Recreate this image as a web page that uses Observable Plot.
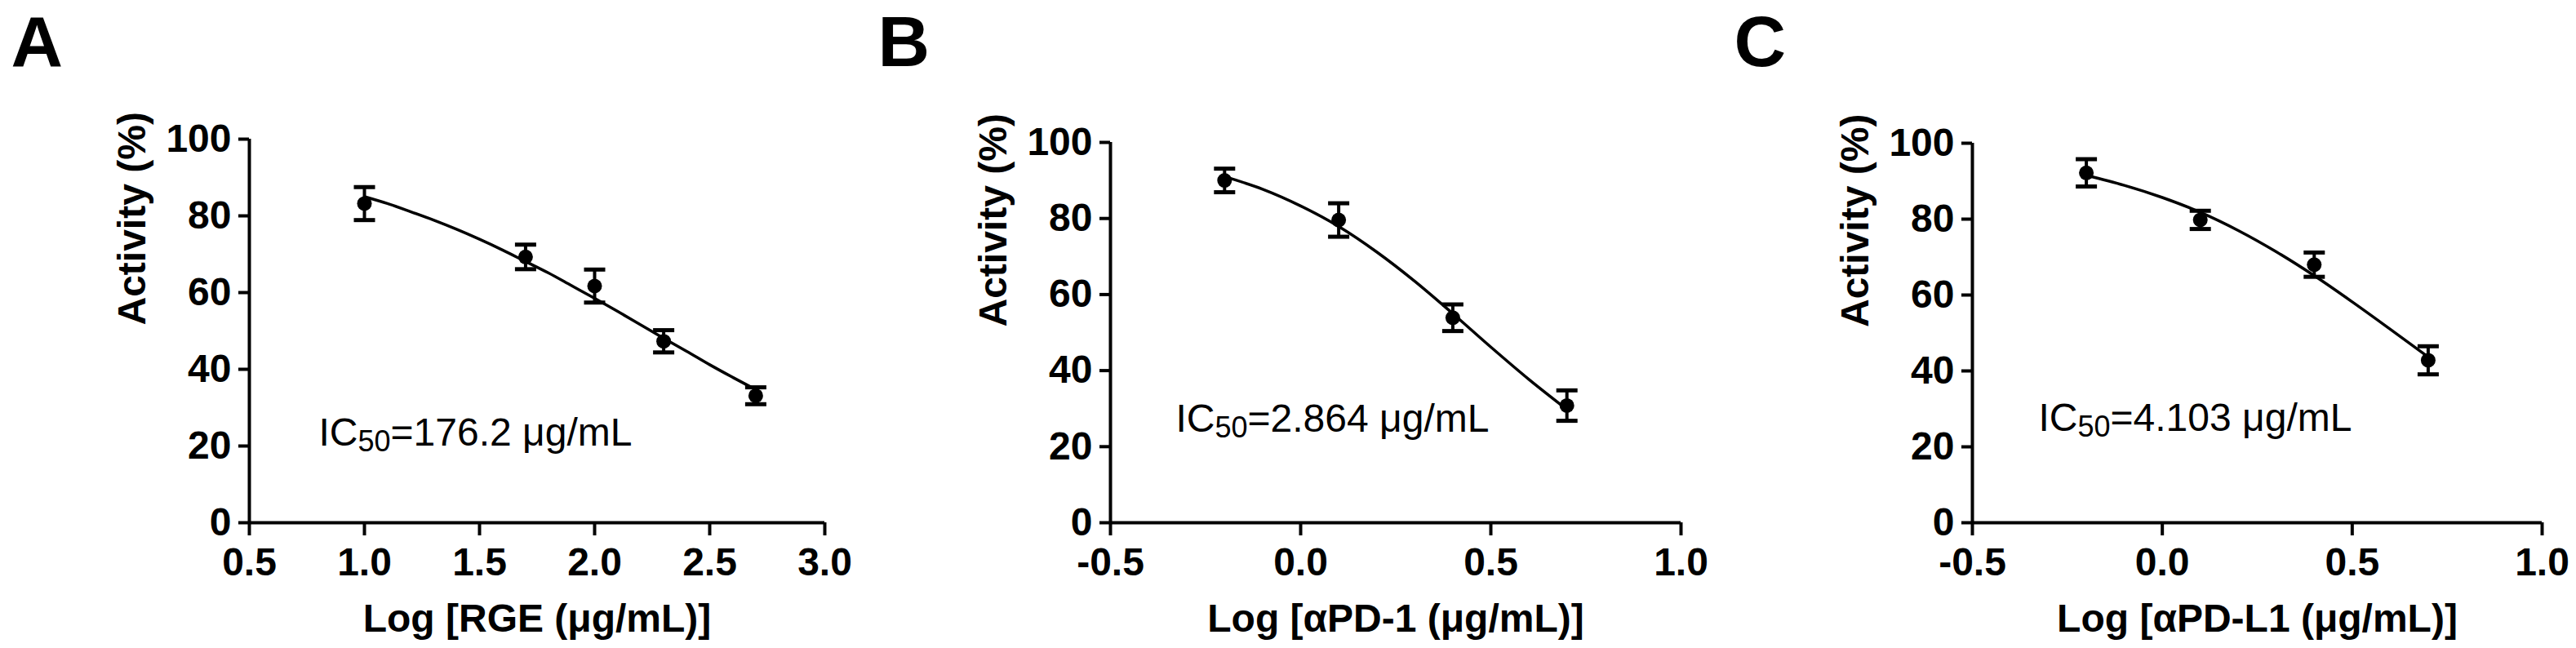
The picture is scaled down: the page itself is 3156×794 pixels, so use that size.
<!DOCTYPE html>
<html>
<head>
<meta charset="utf-8">
<script src="https://cdn.jsdelivr.net/npm/d3@7"></script>
<script src="https://cdn.jsdelivr.net/npm/@observablehq/plot@0.6"></script>
<style>
  html, body { margin: 0; padding: 0; background: #fff; }
  #row { display: flex; flex-direction: row; width: 3156px; height: 794px; }
  #row > svg { flex: none; }
</style>
</head>
<body>
<div id="row"></div>
<script>
// ---------- Data ----------
// Panel A: RGE
const concA = [1.0, 1.7, 2.0, 2.3, 2.7];
const actA  = [83.2, 69.3, 61.7, 47.3, 33.1];
const semA  = [4.3, 3.2, 4.3, 2.9, 2.2];
const fitXA = [1.0, 1.1, 1.2, 1.3, 1.4, 1.5, 1.6, 1.7, 1.8, 1.9, 2.0, 2.1, 2.2, 2.3, 2.4, 2.5, 2.6, 2.7];
const fitYA = [85.0, 83.2, 81.1, 78.9, 76.5, 73.9, 71.1, 68.1, 65.1, 61.8, 58.5, 55.1, 51.6, 48.1, 44.7, 41.2, 37.9, 34.7];

// Panel B: αPD-1
const concB = [-0.2, 0.1, 0.4, 0.7];
const actB  = [90.0, 79.6, 53.9, 30.8];
const semB  = [3.1, 4.4, 3.5, 4.0];
const fitXB = [-0.2, -0.1, 0.0, 0.1, 0.2, 0.3, 0.4, 0.5, 0.6, 0.7];
const fitYB = [91.0, 87.7, 83.3, 77.9, 71.2, 63.5, 55.0, 46.2, 37.7, 29.8];

// Panel C: αPD-L1
const concC = [-0.2, 0.1, 0.4, 0.7];
const actC  = [92.2, 79.8, 68.0, 42.8];
const semC  = [3.6, 2.4, 3.2, 3.7];
const fitXC = [-0.2, -0.1, 0.0, 0.1, 0.2, 0.3, 0.4, 0.5, 0.6, 0.7];
const fitYC = [91.5, 88.9, 85.7, 81.8, 77.0, 71.4, 65.1, 58.2, 51.0, 43.7];

// Tick values and labels
const yTicks  = [0, 20, 40, 60, 80, 100];
const xTicksA = [0.5, 1.0, 1.5, 2.0, 2.5, 3.0];
const xTicksBC = [-0.5, 0.0, 0.5, 1.0];
const panelLetters = ["A", "B", "C"];
const ic50Labels = ["IC50=176.2 μg/mL", "IC50=2.864 μg/mL", "IC50=4.103 μg/mL"];
const xTitles = ["Log [RGE (μg/mL)]", "Log [αPD-1 (μg/mL)]", "Log [αPD-L1 (μg/mL)]"];
const yTitle = "Activity (%)";

// ---------- Layout ----------
const FONT = "'Liberation Sans', Arial, Helvetica, sans-serif";
const panels = [
  {letter: panelLetters[0], conc: concA, act: actA, sem: semA, fitX: fitXA, fitY: fitYA,
   xDomain: [0.5, 3.0], xTicks: xTicksA, ic50: ic50Labels[0], xTitle: xTitles[0],
   ml: 305, mr: 42, mt: 170, letterDx: -292, icDx: 85, icDy: -95},
  {letter: panelLetters[1], conc: concB, act: actB, sem: semB, fitX: fitXB, fitY: fitYB,
   xDomain: [-0.5, 1.0], xTicks: xTicksBC, ic50: ic50Labels[1], xTitle: xTitles[1],
   ml: 308, mr: 45, mt: 174, letterDx: -285, icDx: 80, icDy: -112},
  {letter: panelLetters[2], conc: concC, act: actC, sem: semC, fitX: fitXC, fitY: fitYC,
   xDomain: [-0.5, 1.0], xTicks: xTicksBC, ic50: ic50Labels[2], xTitle: xTitles[2],
   ml: 312, mr: 42, mt: 175, letterDx: -292, icDx: 81, icDy: -113}
];

const capSymbol = {
  draw(ctx, size) {
    const r = Math.sqrt(size / Math.PI);
    ctx.moveTo(-r, 0);
    ctx.lineTo(r, 0);
  }
};

const row = document.getElementById("row");

panels.forEach(p => {
  const pts = p.conc.map((x, i) => ({x, y: p.act[i], e: p.sem[i]}));
  const fit = p.fitX.map((x, i) => ({x, y: p.fitY[i]}));
  const H = 794, bottom = 154;

  const svg = Plot.plot({
    width: 1052,
    height: H,
    marginLeft: p.ml,
    marginRight: p.mr,
    marginTop: p.mt,
    marginBottom: bottom,
    style: {fontFamily: FONT, color: "#000", background: "#fff", overflow: "visible"},
    x: {domain: p.xDomain},
    y: {domain: [0, 100]},
    marks: [
      // axes lines
      Plot.ruleX([p.xDomain[0]], {stroke: "#000", strokeWidth: 4}),
      Plot.ruleY([0], {stroke: "#000", strokeWidth: 4}),
      Plot.axisY({ticks: yTicks, tickSize: 13, tickPadding: 9, tickFormat: d => String(d),
        fontSize: 48, fontWeight: "bold", strokeWidth: 4, label: null}),
      Plot.axisX({ticks: p.xTicks, tickSize: 16, tickPadding: 14, tickFormat: d => d.toFixed(1),
        fontSize: 48, fontWeight: "bold", strokeWidth: 4, label: null}),
      // fitted curve
      Plot.line(fit, {x: "x", y: "y", curve: "monotone-x", stroke: "#000", strokeWidth: 3.5}),
      // error bars
      Plot.ruleX(pts, {x: "x", y1: d => d.y - d.e, y2: d => d.y + d.e, stroke: "#000", strokeWidth: 4}),
      Plot.dot(pts, {x: "x", y: d => d.y + d.e, symbol: capSymbol, r: 13, stroke: "#000", strokeWidth: 5, fill: "none"}),
      Plot.dot(pts, {x: "x", y: d => d.y - d.e, symbol: capSymbol, r: 13, stroke: "#000", strokeWidth: 5, fill: "none"}),
      // mean points
      Plot.dot(pts, {x: "x", y: "y", r: 9, fill: "#000", stroke: "none"}),
      // IC50 annotation
      Plot.text([p.ic50], {text: d => d, frameAnchor: "bottom-left", dx: p.icDx, dy: p.icDy,
        textAnchor: "start", lineAnchor: "bottom", fontSize: 48, fontWeight: "normal", fill: "#000"}),
      // axis titles
      Plot.text([yTitle], {text: d => d, frameAnchor: "left", rotate: -90, dx: -143, dy: -7,
        fontSize: 48, fontWeight: "bold", fill: "#000"}),
      Plot.text([p.xTitle], {text: d => d, frameAnchor: "bottom", dy: 133, lineAnchor: "bottom",
        fontSize: 48, fontWeight: "bold", fill: "#000"}),
      // panel letter
      Plot.text([p.letter], {text: d => d, frameAnchor: "top-left", dx: p.letterDx, dy: 18 - p.mt,
        textAnchor: "start", lineAnchor: "top", fontSize: 88, fontWeight: "bold", fill: "#000"})
    ]
  });

  // Subscript for IC50
  svg.querySelectorAll("text").forEach(t => {
    const s = t.textContent;
    if (s.startsWith("IC50")) {
      while (t.firstChild) t.removeChild(t.firstChild);
      const ns = "http://www.w3.org/2000/svg";
      const a = document.createElementNS(ns, "tspan");
      a.textContent = "IC";
      const b = document.createElementNS(ns, "tspan");
      b.textContent = "50";
      b.setAttribute("font-size", "0.75em");
      b.setAttribute("dy", "0.22em");
      const c = document.createElementNS(ns, "tspan");
      c.textContent = s.slice(4);
      c.setAttribute("dy", "-0.165em");
      t.appendChild(a); t.appendChild(b); t.appendChild(c);
    }
  });

  row.appendChild(svg);
});
</script>
</body>
</html>
